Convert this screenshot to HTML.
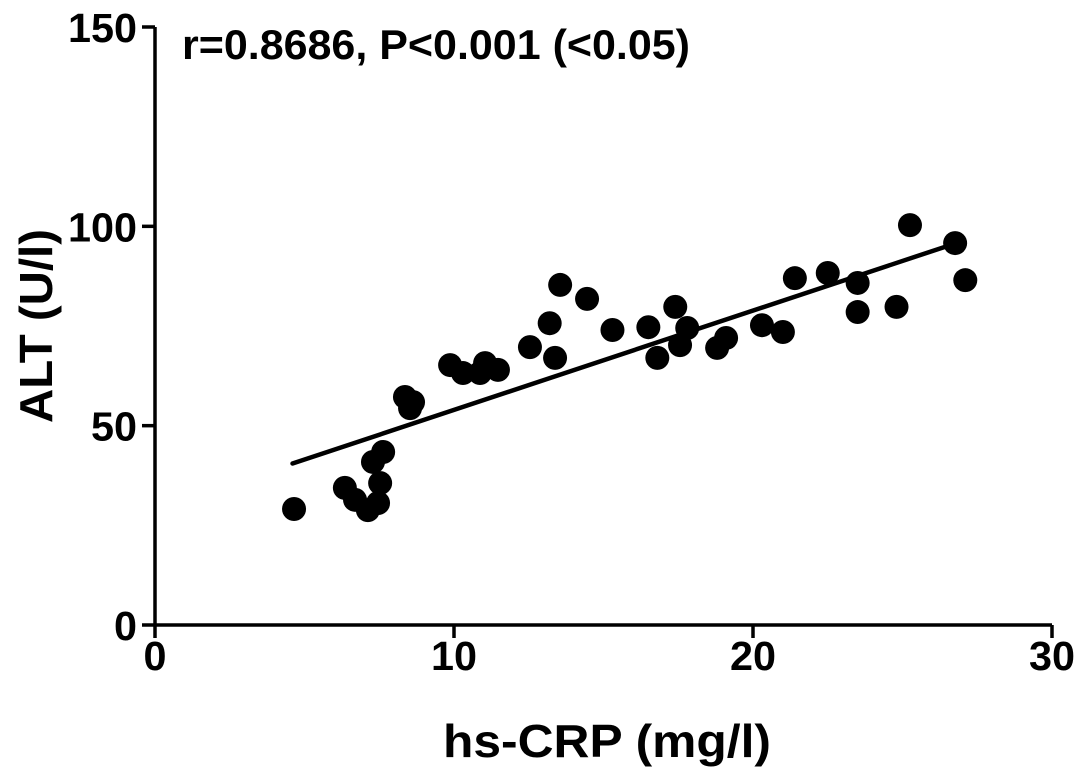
<!DOCTYPE html>
<html><head><meta charset="utf-8"><style>
html,body{margin:0;padding:0;background:#fff;}
svg{display:block;font-family:"Liberation Sans",Arial,sans-serif;font-weight:bold;}
</style></head><body>
<svg id="chart" width="1087" height="777" viewBox="0 0 1087 777" xmlns="http://www.w3.org/2000/svg"></svg>
<script>
const xTicks = [0, 10, 20, 30];
const yTicks = [0, 50, 100, 150];
const xVals = [4.65,6.35,6.69,7.12,7.53,7.46,7.63,7.29,8.36,8.63,8.53,9.87,10.3,10.87,11.04,11.47,12.54,13.38,13.2,13.55,14.45,15.3,16.5,17.4,17.8,17.56,16.8,18.8,19.1,20.3,21.0,21.4,22.5,23.5,23.5,24.8,25.25,26.76,27.1];
const yVals = [29.1,34.4,31.4,28.8,35.6,30.6,43.4,40.9,57.2,55.9,54.4,65.2,63.2,63.2,65.7,64,69.7,67,75.7,85.3,81.8,74,74.7,79.8,74.5,70.2,67,69.5,72,75.2,73.5,87,88.3,85.8,78.5,79.8,100.3,95.8,86.5];
const fitX = [4.6, 26.8];
const fitY = [40.5, 95.8];

const NS = "http://www.w3.org/2000/svg";
const svg = document.getElementById('chart');
const X0 = 155, X1 = 1052, Y0 = 625, Y1 = 27;
const sx = v => X0 + (v - 0) / 30 * (X1 - X0);
const sy = v => Y0 - (v - 0) / 150 * (Y0 - Y1);
function mk(tag, attrs, txt) {
  const e = document.createElementNS(NS, tag);
  for (const k in attrs) e.setAttribute(k, attrs[k]);
  if (txt !== undefined) e.textContent = txt;
  svg.appendChild(e);
  return e;
}
let e;
e = mk('line', {x1: X0, y1: Y1, x2: X0, y2: Y0 + 1.5, stroke: '#000', 'stroke-width': 3.5});


e = mk('line', {x1: X0 - 1.5, y1: Y0, x2: X1, y2: Y0, stroke: '#000', 'stroke-width': 3.5});


yTicks.forEach(t => {
  e = mk('line', {x1: X0 - 13, y1: sy(t), x2: X0, y2: sy(t), stroke: '#000', 'stroke-width': 3.5});
  
  
  const s = String(t);
  e = mk('text', {x: X0 - 18, y: sy(t) + 15, 'text-anchor': 'end', 'font-size': 41, textLength: 23 * s.length, lengthAdjust: 'spacingAndGlyphs'}, s);
  
  
});
xTicks.forEach(t => {
  e = mk('line', {x1: sx(t), y1: Y0, x2: sx(t), y2: Y0 + 13, stroke: '#000', 'stroke-width': 3.5});
  
  
  const s = String(t);
  e = mk('text', {x: sx(t), y: Y0 + 45, 'text-anchor': 'middle', 'font-size': 41, textLength: 23 * s.length, lengthAdjust: 'spacingAndGlyphs'}, s);
  
  
});
e = mk('line', {x1: sx(fitX[0]), y1: sy(fitY[0]), x2: sx(fitX[1]), y2: sy(fitY[1]), stroke: '#000', 'stroke-width': 4.5, 'stroke-linecap': 'round'});


xVals.forEach((v, i) => {
  e = mk('circle', {cx: sx(v), cy: sy(yVals[i]), r: 12, fill: '#000'});
  
  
});
e = mk('text', {x: 182, y: 59, 'font-size': 42, textLength: 508, lengthAdjust: 'spacingAndGlyphs'}, 'r=0.8686, P<0.001 (<0.05)');


e = mk('text', {x: 607, y: 757, 'text-anchor': 'middle', 'font-size': 46, textLength: 328, lengthAdjust: 'spacingAndGlyphs'}, 'hs-CRP (mg/l)');


e = mk('text', {x: 0, y: 0, 'text-anchor': 'middle', 'font-size': 46, textLength: 194, lengthAdjust: 'spacingAndGlyphs', transform: 'translate(52,326) rotate(-90)'}, 'ALT (U/l)');


</script>
</body></html>
